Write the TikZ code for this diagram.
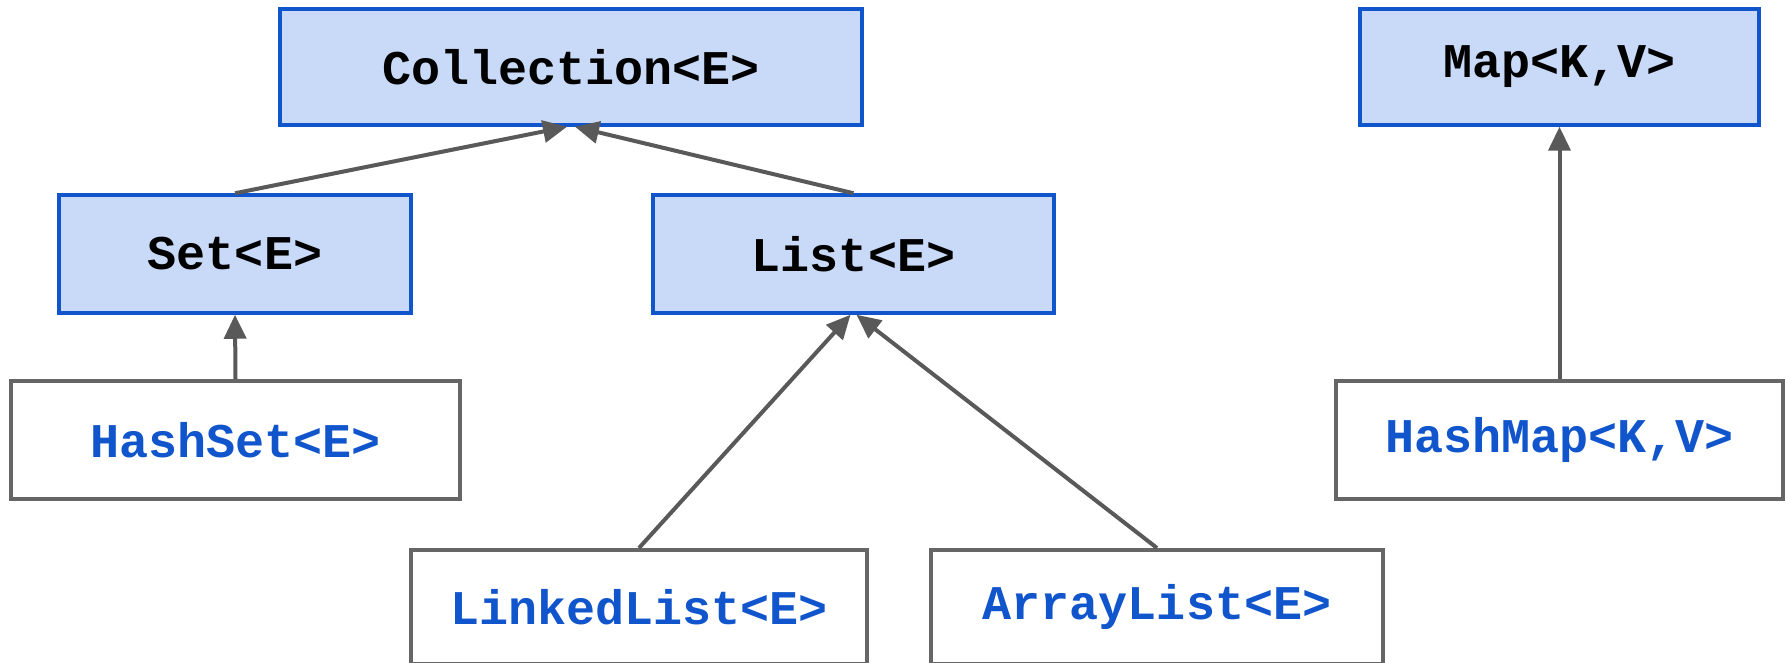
\documentclass[tikz,border=0pt]{standalone}
\usepackage{fontspec}
\setmonofont{Liberation Mono}
\usetikzlibrary{arrows.meta}
\definecolor{fillblue}{HTML}{C9DAF8}
\definecolor{edgeblue}{HTML}{1155CC}
\definecolor{edgegray}{HTML}{666666}
\definecolor{arrowgray}{HTML}{595959}
\tikzset{
  base/.style={rectangle, inner sep=0pt, font=\fontsize{24.2}{29}\selectfont\ttfamily\bfseries},
  iface/.style={base, draw=edgeblue, fill=fillblue, line width=1.75pt, text=black},
  impl/.style={base, draw=edgegray, fill=white, line width=2pt, text=edgeblue},
  inh/.style={draw=arrowgray, line width=2pt, -{Triangle[length=12pt,width=11pt]}}
}
\begin{document}
\begin{tikzpicture}[x=0.5pt,y=-0.5pt]
\useasboundingbox (0,0) rectangle (1785,663);
\node[iface, minimum width=291pt, minimum height=58pt] (coll) at (571,67) {Collection<E>};
\node[iface, minimum width=199.5pt, minimum height=58pt] (map) at (1559.5,67) {Map<K,V>};
\node[iface, minimum width=176pt, minimum height=59pt] (set) at (235,254) {Set<E>};
\node[iface, minimum width=200.5pt, minimum height=59pt] (list) at (853.5,254) {List<E>};
\node[impl, minimum width=224.5pt, minimum height=59pt] (hset) at (235.5,440) {HashSet<E>};
\node[impl, minimum width=223.5pt, minimum height=59pt] (hmap) at (1559.5,440) {HashMap<K,V>};
\node[impl, minimum width=228pt, minimum height=57pt] (llist) at (639,607) {LinkedList<E>};
\node[impl, minimum width=226pt, minimum height=57pt] (alist) at (1157,607) {ArrayList<E>};
\coordinate (collL) at ([xshift=-2pt]coll.south);
\coordinate (collR) at ([xshift=2pt]coll.south);
\coordinate (listL) at ([xshift=-1.5pt]list.south);
\coordinate (listR) at ([xshift=1.5pt]list.south);
\draw[inh] (set.north) -- (collL);
\draw[inh] (list.north) -- (collR);
\draw[inh] (hset.north) -- (set.south);
\draw[inh] (llist.north) -- (listL);
\draw[inh] (alist.north) -- (listR);
\draw[inh] (hmap.north) -- (map.south);
\end{tikzpicture}
\end{document}
